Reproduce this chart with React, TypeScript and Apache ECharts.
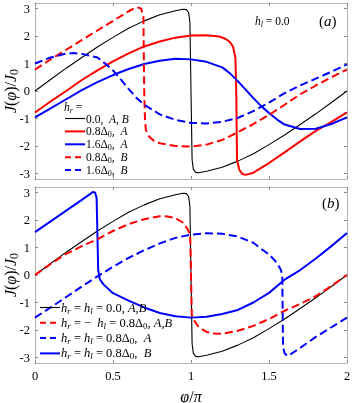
import React, { useEffect, useRef } from 'react';
import * as echarts from 'echarts';

type P = [number, number];

// x in units of pi, y = J/J0
const yTicks = [-3, -2, -1, 0, 1, 2, 3];

// panel (a) and (b): hr = hl = 0
const blackCurve: P[] = [
  [0, 0], [0.1, 0.42], [0.2, 0.83], [0.3, 1.22], [0.4, 1.6], [0.5, 1.95], [0.6, 2.28], [0.7, 2.55],
  [0.8, 2.77], [0.9, 2.92], [0.95, 2.97], [0.97, 2.96], [0.985, 2.85], [0.993, 2.5], [1.0, 0],
  [1.007, -2.5], [1.015, -2.85], [1.03, -2.96], [1.05, -2.97], [1.1, -2.92], [1.2, -2.77], [1.3, -2.55],
  [1.4, -2.28], [1.5, -1.95], [1.6, -1.6], [1.7, -1.22], [1.8, -0.83], [1.9, -0.42], [2, 0],
];
// panel (a): hr = 0.8Δ0, A
const redSolidA: P[] = [
  [0, -0.78], [0.1, -0.38], [0.2, 0.0], [0.3, 0.4], [0.4, 0.75], [0.5, 1.08], [0.6, 1.37], [0.7, 1.62],
  [0.8, 1.8], [0.9, 1.94], [1.0, 2.02], [1.1, 2.03], [1.18, 1.98], [1.22, 1.9], [1.25, 1.78], [1.27, 1.6],
  [1.285, 1.2], [1.29, 0], [1.295, -2.5], [1.31, -2.87], [1.33, -3.02], [1.35, -3.05], [1.4, -2.97],
  [1.5, -2.62], [1.6, -2.23], [1.7, -1.83], [1.8, -1.45], [1.9, -1.12], [2, -0.78],
];
// panel (a): hr = 1.6Δ0, A
const blueSolidA: P[] = [
  [0, -0.96], [0.1, -0.63], [0.2, -0.3], [0.3, 0.03], [0.4, 0.32], [0.5, 0.58], [0.6, 0.8], [0.7, 0.98],
  [0.8, 1.1], [0.9, 1.17], [1.0, 1.15], [1.1, 1.06], [1.2, 0.86], [1.25, 0.64], [1.3, 0.36], [1.35, 0.05],
  [1.4, -0.26], [1.45, -0.55], [1.5, -0.8], [1.55, -1.03], [1.6, -1.22], [1.7, -1.38], [1.8, -1.37],
  [1.9, -1.2], [2, -0.96],
];
// panel (a): hr = 0.8Δ0, B
const redDashA: P[] = [
  [0, 0.78], [0.1, 1.15], [0.2, 1.5], [0.3, 1.85], [0.4, 2.2], [0.5, 2.55], [0.6, 2.9], [0.65, 3.05],
  [0.68, 3.0], [0.695, 2.7], [0.7, 0], [0.705, -1.0], [0.71, -1.4], [0.73, -1.65], [0.76, -1.8],
  [0.8, -1.9], [0.9, -2.0], [1.0, -2.02], [1.1, -1.95], [1.2, -1.78], [1.3, -1.5], [1.4, -1.2],
  [1.5, -0.87], [1.6, -0.5], [1.7, -0.12], [1.8, 0.2], [1.9, 0.5], [2, 0.78],
];
// panel (a): hr = 1.6Δ0, B
const blueDashA: P[] = [
  [0, 1.0], [0.1, 1.22], [0.2, 1.36], [0.25, 1.38], [0.3, 1.35], [0.4, 1.22], [0.46, 0.95], [0.5, 0.75],
  [0.55, 0.42], [0.6, 0.08], [0.65, -0.25], [0.7, -0.5], [0.8, -0.85], [0.9, -1.05], [1.0, -1.16],
  [1.1, -1.18], [1.2, -1.12], [1.3, -0.98], [1.4, -0.73], [1.5, -0.42], [1.6, -0.08], [1.7, 0.2],
  [1.8, 0.45], [1.9, 0.7], [2, 0.97],
];
// panel (b): hr = -hl = 0.8Δ0, A,B
const redDashB: P[] = [
  [0, 0], [0.1, 0.4], [0.2, 0.77], [0.3, 1.05], [0.4, 1.3], [0.5, 1.6], [0.6, 1.85], [0.7, 2.03],
  [0.8, 2.14], [0.85, 2.13], [0.9, 2.07], [0.95, 1.9], [0.98, 1.65], [0.995, 1.45], [1.0, 0],
  [1.005, -1.45], [1.02, -1.65], [1.05, -1.9], [1.1, -2.07], [1.15, -2.13], [1.2, -2.14], [1.3, -2.03],
  [1.4, -1.85], [1.5, -1.6], [1.6, -1.3], [1.7, -1.05], [1.8, -0.77], [1.9, -0.4], [2, 0],
];
// panel (b): hr = hl = 0.8Δ0, A
const blueDashB: P[] = [
  [0, -1.55], [0.1, -1.18], [0.2, -0.8], [0.3, -0.42], [0.4, -0.05], [0.5, 0.3], [0.6, 0.62], [0.7, 0.9],
  [0.8, 1.15], [0.9, 1.35], [1.0, 1.47], [1.1, 1.52], [1.2, 1.5], [1.3, 1.4], [1.4, 1.17], [1.45, 0.95],
  [1.5, 0.75], [1.55, 0.45], [1.575, 0.2], [1.585, 0], [1.59, -2.6], [1.6, -2.85], [1.62, -2.95],
  [1.7, -2.65], [1.8, -2.25], [1.9, -1.9], [2, -1.55],
];
// panel (b): hr = hl = 0.8Δ0, B
const blueSolidB: P[] = [
  [0, 1.56], [0.1, 1.95], [0.2, 2.34], [0.3, 2.73], [0.35, 2.93], [0.37, 3.02], [0.385, 3.0], [0.395, 2.8],
  [0.4, 1.5], [0.405, 0.2], [0.415, -0.15], [0.44, -0.35], [0.5, -0.66], [0.6, -0.93], [0.7, -1.18],
  [0.8, -1.38], [0.9, -1.5], [1.0, -1.55], [1.1, -1.52], [1.2, -1.42], [1.3, -1.27], [1.4, -1.0],
  [1.5, -0.65], [1.6, -0.17], [1.7, 0.18], [1.8, 0.6], [1.9, 1.05], [2, 1.53],
];

const F = '"Liberation Serif", "DejaVu Serif", serif';
function mk(size: number, lh: number) {
  return {
    t: { fontFamily: F, fontSize: size, lineHeight: lh, color: '#000' },
    i: { fontFamily: F, fontSize: size, fontStyle: 'italic', lineHeight: lh, color: '#000' },
    is: { fontFamily: F, fontSize: Math.round(size * 0.72), fontStyle: 'italic', lineHeight: lh, verticalAlign: 'bottom', color: '#000' },
    s: { fontFamily: F, fontSize: Math.round(size * 0.72), lineHeight: lh, verticalAlign: 'bottom', color: '#000' },
  };
}
const richS = mk(11.5, 14);
const richL = mk(12.5, 15);
const richAx = mk(16, 20);

const S = ' ';
const legendA = [
  { text: `{t|0.0,${S}${S}}{i|A, B}`, color: '#000000', width: 1.1, dashed: false },
  { text: `{t|0.8Δ}{s|0}{t|,${S}${S}}{i|A}`, color: '#ff0000', width: 2, dashed: false },
  { text: `{t|1.6Δ}{s|0}{t|,${S}${S}}{i|A}`, color: '#0000ff', width: 2, dashed: false },
  { text: `{t|0.8Δ}{s|0}{t|,${S}${S}}{i|B}`, color: '#ff0000', width: 2, dashed: true },
  { text: `{t|1.6Δ}{s|0}{t|,${S}${S}}{i|B}`, color: '#0000ff', width: 2, dashed: true },
];
const legendB = [
  { text: `{i|h}{is|r}{t| = }{i|h}{is|l}{t| = 0.0, }{i|A,B}`, color: '#000000', width: 1.1, dashed: false },
  { text: `{i|h}{is|r}{t|${S}=${S}−${S}${S}}{i|h}{is|l}{t|${S}=${S}0.8Δ}{s|0}{t|,${S}}{i|A,B}`, color: '#ff0000', width: 2, dashed: true },
  { text: `{i|h}{is|r}{t|${S}=${S}}{i|h}{is|l}{t|${S}=${S}0.8Δ}{s|0}{t|,${S}${S}}{i|A}`, color: '#0000ff', width: 2, dashed: true },
  { text: `{i|h}{is|r}{t|${S}=${S}}{i|h}{is|l}{t|${S}=${S}0.8Δ}{s|0}{t|,${S}${S}}{i|B}`, color: '#0000ff', width: 2, dashed: false },
];

const FRAME = '#b4b4b4';
const TICK = '#8a8a8a';
const DASH = [8, 4];

function xAx(grid: number, pos: 'bottom' | 'top', labels: boolean) {
  return {
    type: 'value', gridIndex: grid, position: pos, min: 0, max: 2, interval: 0.5,
    axisLine: { show: true, onZero: false, lineStyle: { color: FRAME, width: 1 } },
    axisTick: { show: true, inside: true, length: 3, lineStyle: { color: TICK } },
    axisLabel: {
      show: labels, margin: 6, color: '#000', fontFamily: F, fontSize: 12.5,
      formatter: (v: number) => String(v),
    },
    splitLine: { show: false },
    name: labels ? '{i|φ}{t|/}{i|π}' : '',
    nameLocation: 'middle', nameGap: 23, nameMoveOverlap: false,
    nameTextStyle: { rich: richAx },
  };
}
function yAx(grid: number, pos: 'left' | 'right', labels: boolean) {
  return {
    type: 'value', gridIndex: grid, position: pos, min: -3.2, max: 3.2,
    axisLine: { show: true, onZero: false, lineStyle: { color: FRAME, width: 1 } },
    axisTick: { show: true, inside: true, length: 3, lineStyle: { color: TICK }, customValues: yTicks },
    axisLabel: {
      show: labels, margin: 5, color: '#000', fontFamily: F, fontSize: 12.5, customValues: yTicks,
      formatter: (v: number) => String(v),
    },
    splitLine: { show: false },
    name: labels ? '{i|J}{t|(}{i|φ}{t|)/}{i|J}{s|0}' : '',
    nameLocation: 'middle', nameGap: 15, nameMoveOverlap: false,
    nameTextStyle: { rich: richAx },
  };
}

function line(name: string, data: P[], color: string, width: number, dashed: boolean, axis: number) {
  return {
    type: 'line', name, data, xAxisIndex: axis, yAxisIndex: axis,
    showSymbol: false, symbol: 'none', smooth: false,
    lineStyle: { color, width, type: dashed ? DASH : 'solid' },
    itemStyle: { color },
    z: dashed ? 3 : 2,
  };
}

function legendGraphics(rows: typeof legendA, x0: number, y0: number, dy: number, rich: any) {
  const out: any[] = [];
  rows.forEach((r, k) => {
    const y = y0 + k * dy;
    out.push({
      type: 'line', z: 10, shape: { x1: x0, y1: y, x2: x0 + 20, y2: y },
      style: { stroke: r.color, lineWidth: r.width, lineDash: r.dashed ? [6, 4] : null },
    });
    out.push({
      type: 'text', z: 10, x: x0 + 21, y,
      style: { text: r.text, rich, verticalAlign: 'middle', align: 'left' },
    });
  });
  return out;
}

export default function App() {
  const ref = useRef<HTMLDivElement>(null);
  useEffect(() => {
    const chart = echarts.init(ref.current!, null, { renderer: 'svg' });
    chart.setOption({
      animation: false,
      grid: [
        { left: 35, top: 3, width: 312, height: 176, outerBoundsMode: 'none', containLabel: false },
        { left: 35, top: 187, width: 312, height: 176, outerBoundsMode: 'none', containLabel: false },
      ],
      xAxis: [xAx(0, 'bottom', false), xAx(0, 'top', false), xAx(1, 'bottom', true), xAx(1, 'top', false)],
      yAxis: [yAx(0, 'left', true), yAx(0, 'right', false), yAx(1, 'left', true), yAx(1, 'right', false)],
      graphic: [
        { type: 'text', z: 10, x: 64, y: 107, style: { text: '{i|h}{is|r}{t| =}', rich: richS, verticalAlign: 'middle' } },
        ...legendGraphics(legendA, 65, 118.5, 12.9, richS),
        ...legendGraphics(legendB, 40, 307.5, 15.3, richL),
        { type: 'text', z: 10, x: 255, y: 21, style: { text: '{i|h}{is|l}{t| = 0.0}', rich: richS, verticalAlign: 'middle' } },
        { type: 'text', z: 10, x: 319, y: 21, style: { text: '{t|(}{i|a}{t|)}', rich: mk(15, 18), verticalAlign: 'middle' } },
        { type: 'text', z: 10, x: 322, y: 203, style: { text: '{t|(}{i|b}{t|)}', rich: mk(15, 18), verticalAlign: 'middle' } },
      ],
      series: [
        line('a1', blackCurve, '#000000', 1.1, false, 0),
        line('a2', redSolidA, '#ff0000', 2, false, 0),
        line('a3', blueSolidA, '#0000ff', 2, false, 0),
        line('a4', redDashA, '#ff0000', 2, true, 0),
        line('a5', blueDashA, '#0000ff', 2, true, 0),
        line('b1', blackCurve, '#000000', 1.1, false, 2),
        line('b2', redDashB, '#ff0000', 2, true, 2),
        line('b3', blueDashB, '#0000ff', 2, true, 2),
        line('b4', blueSolidB, '#0000ff', 2, false, 2),
      ],
    });
    return () => chart.dispose();
  }, []);
  return <div ref={ref} style={{ position: 'fixed', left: 0, top: 0, width: 354, height: 403 }} />;
}
